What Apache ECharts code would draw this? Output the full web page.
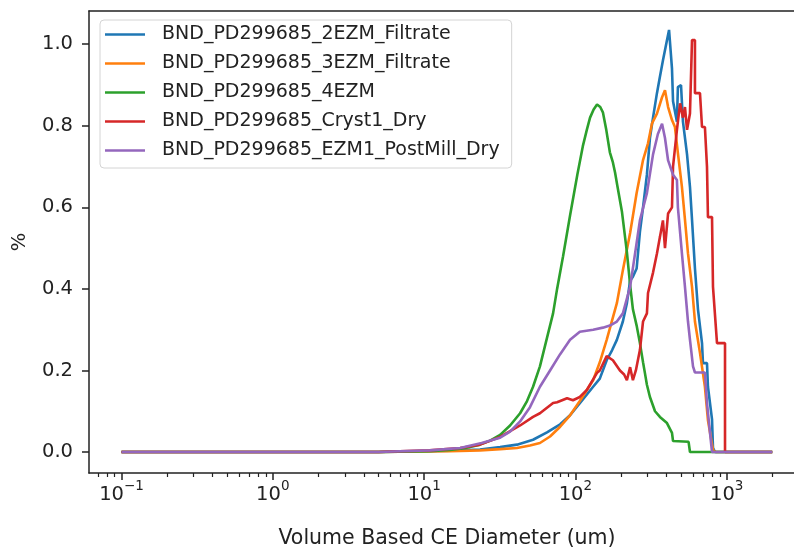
<!DOCTYPE html>
<html>
<head>
<meta charset="utf-8">
<script src="https://cdn.jsdelivr.net/npm/echarts@6/dist/echarts.min.js"></script>
<style>
  html, body { margin: 0; padding: 0; background: #fff; }
  #chart { width: 794px; height: 550px; }
</style>
</head>
<body>
<div id="chart"></div>
<script>
// ---- Data: volume distributions, diameter in um, value in % ----

const names = [
  'BND_PD299685_2EZM_Filtrate',
  'BND_PD299685_3EZM_Filtrate',
  'BND_PD299685_4EZM',
  'BND_PD299685_Cryst1_Dry',
  'BND_PD299685_EZM1_PostMill_Dry',
]

const d2EZM = [0.1, 5, 6.9, 14.8, 23.4, 31.8, 41.1, 52.5, 64.9, 79.3, 92.2, 107, 131, 145, 161, 175, 188, 206, 219, 230,
  240, 254, 267, 280, 297, 311, 326, 346, 362, 379, 403, 416, 435, 442, 469, 476, 499, 514, 547, 572,
  590, 617, 646, 687, 697, 741, 752, 800, 812, 837, 2000]
const v2EZM = [0, 0, 0.001, 0.003, 0.006, 0.012, 0.018, 0.03, 0.048, 0.068, 0.09, 0.12, 0.16, 0.18, 0.225, 0.25, 0.275, 0.32, 0.365, 0.42,
  0.43, 0.45, 0.54, 0.6, 0.68, 0.77, 0.82, 0.88, 0.92, 0.96, 1.01, 1.035, 0.94, 0.86, 0.81, 0.895, 0.9, 0.81, 0.73, 0.65,
  0.57, 0.45, 0.35, 0.267, 0.218, 0.218, 0.16, 0.08, 0.01, 0, 0]

const d3EZM = [0.1, 5, 6.9, 14.8, 23.4, 31.8, 41.1, 50.1, 58.3, 68, 79.3, 92.2, 107, 131, 145, 161, 188, 206, 230, 254,
  280, 302, 321, 346, 374, 391, 410, 435, 455, 476, 506, 530, 555, 590, 617, 666, 718, 752, 812, 850, 2000]
const v3EZM = [0, 0, 0.001, 0.002, 0.004, 0.007, 0.01, 0.016, 0.022, 0.038, 0.062, 0.09, 0.125, 0.176, 0.22, 0.275, 0.365, 0.446, 0.537, 0.635,
  0.716, 0.757, 0.806, 0.83, 0.87, 0.887, 0.846, 0.814, 0.797, 0.733, 0.65, 0.57, 0.487, 0.405, 0.32, 0.243, 0.16, 0.078, 0.005, 0, 0]

const d4EZM = [0.1, 5, 10.9, 14.8, 17.3, 20.1, 23.4, 27.3, 31.8, 37, 43.1, 47.9, 52.5, 58.3, 64.9, 71.2, 75.7, 82.9, 92.2, 103,
  112, 119, 125, 132, 139, 146, 152, 160, 169, 177, 183, 190, 203, 219, 230, 240, 254, 267, 280, 288,
  297, 311, 336, 362, 403, 435, 442, 560, 572, 2000]
const v4EZM = [0, 0, 0.002, 0.005, 0.008, 0.012, 0.018, 0.028, 0.042, 0.065, 0.095, 0.125, 0.16, 0.21, 0.28, 0.34, 0.4, 0.48, 0.58, 0.68,
  0.75, 0.79, 0.82, 0.84, 0.852, 0.846, 0.833, 0.79, 0.735, 0.71, 0.685, 0.65, 0.59, 0.49, 0.41, 0.35, 0.31, 0.267, 0.22, 0.194,
  0.165, 0.135, 0.1, 0.086, 0.071, 0.047, 0.027, 0.025, 0, 0]

const dCryst1 = [0.1, 5, 6.9, 10.9, 17.3, 23.4, 31.8, 43.1, 52.5, 58.3, 71.2, 75.7, 88.1, 96.4, 107, 119, 139, 145, 161, 177,
  197, 210, 219, 230, 240, 251, 267, 280, 297, 302, 326, 346, 362, 379, 391, 410, 435, 442, 469, 492,
  514, 530, 547, 572, 590, 617, 617, 666, 687, 718, 741, 752, 800, 812, 863, 975, 975, 2000]
const vCryst1 = [0, 0, 0.002, 0.004, 0.01, 0.018, 0.037, 0.065, 0.086, 0.095, 0.12, 0.122, 0.132, 0.127, 0.135, 0.152, 0.194, 0.2, 0.235, 0.225,
  0.2, 0.19, 0.176, 0.208, 0.176, 0.2, 0.25, 0.32, 0.34, 0.39, 0.44, 0.487, 0.527, 0.568, 0.5, 0.585, 0.6, 0.7, 0.79, 0.855,
  0.82, 0.846, 0.79, 0.83, 1.01, 1.01, 0.88, 0.88, 0.797, 0.797, 0.7, 0.576, 0.576, 0.405, 0.267, 0.267, 0, 0]

const dEZM1 = [0.1, 5, 6.9, 10.9, 17.3, 24, 31.8, 37, 43.1, 50.1, 58.3, 68, 79.3, 92.2, 107, 131, 152, 169, 188, 206,
  230, 251, 267, 297, 326, 351, 374, 391, 410, 442, 469, 476, 506, 530, 555, 572, 599, 617, 718, 741,
  776, 800, 2000]
const vEZM1 = [0, 0, 0.002, 0.004, 0.01, 0.022, 0.035, 0.05, 0.075, 0.11, 0.16, 0.2, 0.24, 0.275, 0.295, 0.3, 0.305, 0.31, 0.32, 0.34,
  0.405, 0.5, 0.568, 0.635, 0.73, 0.78, 0.805, 0.77, 0.715, 0.68, 0.667, 0.6, 0.487, 0.405, 0.32, 0.275, 0.21, 0.195, 0.195, 0.12,
  0.047, 0, 0]

// Tick positions
const xMajorTicks = [0.1, 1, 10, 100, 1000]
const xMinorTicks = [0.07, 0.08, 0.09, 0.2, 0.3, 0.4, 0.5, 0.6, 0.7, 0.8, 0.9, 2, 3, 4, 5, 6, 7, 8, 9,
  20, 30, 40, 50, 60, 70, 80, 90, 200, 300, 400, 500, 600, 700, 800, 900, 2000]
const yTicks = [0, 0.2, 0.4, 0.6, 0.8, 1.0]

// ---- Style ----

const COLORS = ['#1f77b4', '#ff7f0e', '#2ca02c', '#d62728', '#9467bd']
const INK = '#222222'
const FONT = 'DejaVu Sans'
// log10 range of the x axis (right end is cut by the picture edge) and y range
const X_MIN = -1.215
const X_MAX = 3.445
const Y_MIN = -0.0515
const Y_MAX = 1.0815

const seriesData = [
  [d2EZM, v2EZM],
  [d3EZM, v3EZM],
  [d4EZM, v4EZM],
  [dCryst1, vCryst1],
  [dEZM1, vEZM1],
]

function toLogPairs(ds, vs) {
  return ds.map((d, i) => [Math.log10(d), vs[i]])
}

function expLabel(v) {
  const e = Math.round(v)
  return '{b|10}{s|' + (e < 0 ? '\u2212' + -e : e) + '}'
}

const spine = { show: true, onZero: false, lineStyle: { color: INK, width: 1.5 } }

const chart = echarts.init(document.getElementById('chart'), null, { renderer: 'canvas' })

chart.setOption({
  animation: false,
  backgroundColor: '#ffffff',
  textStyle: { fontFamily: FONT },
  grid: { left: 89, right: 0, top: 11, bottom: 77, outerBoundsMode: 'none', containLabel: false },
  legend: {
    orient: 'vertical',
    left: 100,
    top: 20,
    icon: 'rect',
    itemWidth: 40,
    itemHeight: 2.5,
    itemGap: 10,
    padding: [5, 12, 8, 5],
    backgroundColor: 'rgba(255,255,255,0.8)',
    borderColor: '#d4d4d4',
    borderWidth: 1,
    borderRadius: 4,
    textStyle: { fontFamily: FONT, fontSize: 19, color: INK, padding: [0, 0, 0, 12] },
    data: names,
  },
  xAxis: [
    {
      type: 'value',
      position: 'bottom',
      min: X_MIN,
      max: X_MAX,
      axisLine: spine,
      splitLine: { show: false },
      axisTick: {
        length: 7,
        lineStyle: { color: INK, width: 1.5 },
        customValues: xMajorTicks.map(Math.log10),
      },
      axisLabel: {
        customValues: xMajorTicks.map(Math.log10),
        formatter: expLabel,
        margin: 6,
        color: INK,
        rich: {
          b: { fontFamily: FONT, fontSize: 19.5, color: INK, lineHeight: 26, verticalAlign: 'bottom' },
          s: { fontFamily: FONT, fontSize: 13.5, color: INK, lineHeight: 14, verticalAlign: 'top' },
        },
      },
      name: 'Volume Based CE Diameter (um)',
      nameLocation: 'middle',
      nameGap: 55,
      nameTextStyle: { fontFamily: FONT, fontSize: 20.5, color: INK, padding: [0, 0, 0, 11] },
    },
    {
      type: 'value',
      position: 'bottom',
      min: X_MIN,
      max: X_MAX,
      axisLine: { show: false, onZero: false },
      splitLine: { show: false },
      axisLabel: { show: false },
      axisTick: {
        length: 4,
        lineStyle: { color: INK, width: 1.2 },
        customValues: xMinorTicks.map(Math.log10),
      },
    },
    {
      type: 'value',
      position: 'top',
      min: X_MIN,
      max: X_MAX,
      axisLine: spine,
      splitLine: { show: false },
      axisLabel: { show: false },
      axisTick: { show: false },
    },
  ],
  yAxis: {
    type: 'value',
    position: 'left',
    min: Y_MIN,
    max: Y_MAX,
    axisLine: spine,
    splitLine: { show: false },
    axisTick: {
      length: 7,
      lineStyle: { color: INK, width: 1.5 },
      customValues: yTicks,
    },
    axisLabel: {
      customValues: yTicks,
      formatter: (v) => v.toFixed(1),
      margin: 16,
      fontFamily: FONT,
      fontSize: 19.5,
      color: INK,
    },
    name: '%',
    nameLocation: 'middle',
    nameRotate: 90,
    nameGap: 59,
    nameTextStyle: { fontFamily: FONT, fontSize: 19.5, color: INK },
  },
  series: seriesData.map(([ds, vs], i) => ({
    name: names[i],
    type: 'line',
    symbol: 'none',
    xAxisIndex: 0,
    data: toLogPairs(ds, vs),
    lineStyle: { width: 2.6, color: COLORS[i] },
    itemStyle: { color: COLORS[i] },
  })),
})
</script>
</body>
</html>
